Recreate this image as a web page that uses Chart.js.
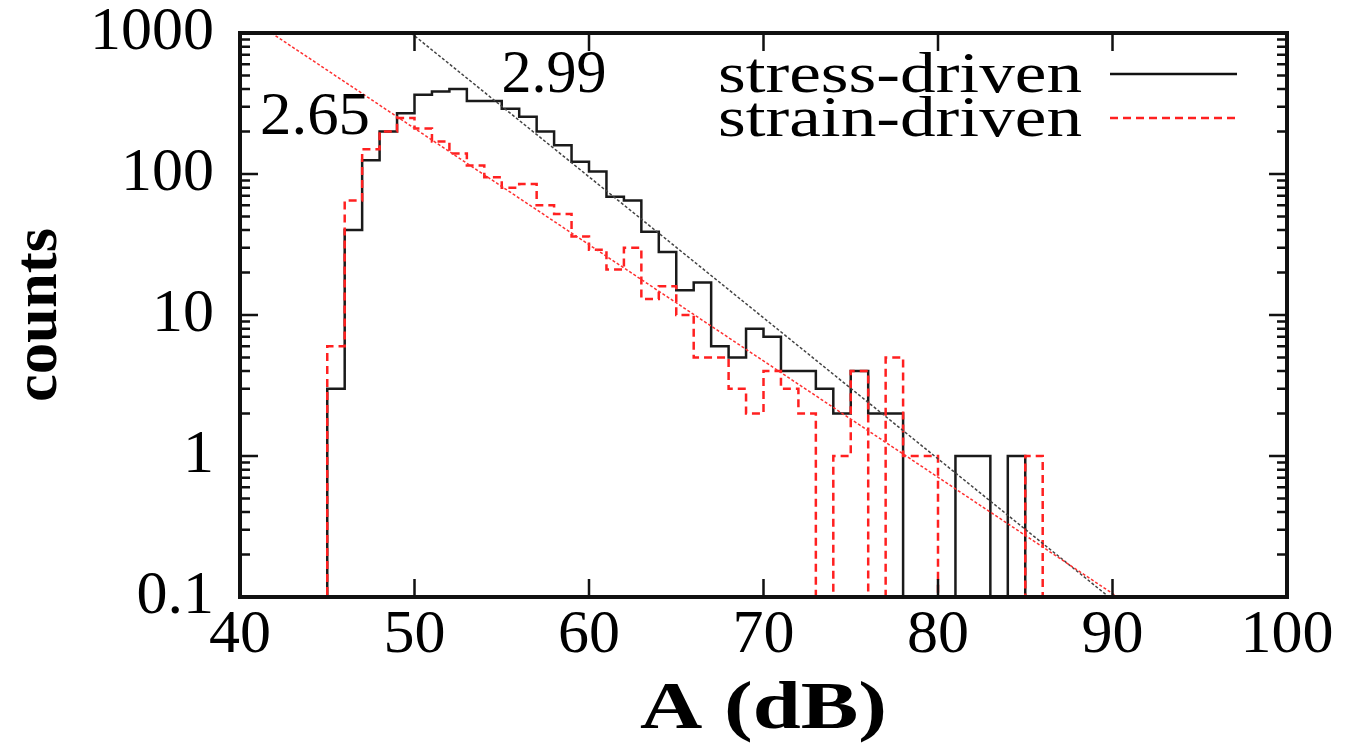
<!DOCTYPE html>
<html>
<head>
<meta charset="utf-8">
<script src="https://cdn.jsdelivr.net/npm/chart.js@4.4.1/dist/chart.umd.min.js"></script>
<style>
  html, body { margin: 0; padding: 0; background: #fff; }
  #wrap { width: 1356px; height: 746px; }
</style>
</head>
<body>
<div id="wrap"><canvas id="graficaAmplitud"></canvas></div>
<script>
// bin edges (dB), one bin per dB
const binEdges = [45,46,47,48,49,50,51,52,53,54,55,56,57,58,59,60,61,62,63,64,65,
                  66,67,68,69,70,71,72,73,74,75,76,77,78,79,80,81,82,83,84,85,86];

// counts per bin, starting at 45 dB
const stressCounts = [3,40,125,200,270,365,385,400,330,330,290,255,200,160,122,104,69,65,39,28,
                      15,17,6,5,8,7,4,4,3,2,4,2,2,0,0,0,1,1,0,1];
const strainCounts = [6,65,150,200,250,210,170,140,115,95,80,85,60,52,36,29,21,30,13,16,
                      10,5,5,3,2,4,3,2,0,1,4,0,5,1,1,0,0,0,0,0,1];

// power-law fits (end points)
const stressFitA = [49.8, 89.8];
const stressFitCounts = [1000, 0.1];
const strainFitA = [41.8, 90.3];
const strainFitCounts = [1000, 0.1];

const fitLabels = ["2.99", "2.65"];
const seriesNames = ["stress-driven", "strain-driven"];

const xTicks = [40,50,60,70,80,90,100];
const yTicks = [0.1,1,10,100,1000];
const yTickLabels = ["0.1","1","10","100","1000"];

// zero counts go below the axis (clipped), like gnuplot histeps
const FLOOR = 0.01;

function histPoints(edges, counts) {
    const pts = [{x: edges[0], y: FLOOR}];
    counts.forEach((c, i) => pts.push({x: edges[i], y: c > 0 ? c : FLOOR}));
    pts.push({x: edges[counts.length], y: FLOOR});
    return pts;
}
function linePoints(xs, ys) {
    return xs.map((x, i) => ({x: x, y: ys[i]}));
}

const SERIF = "'Liberation Serif', 'Times New Roman', serif";

// frame, inner ticks, legend and texts
const decorPlugin = {
    id: 'decor',
    afterDraw(chart) {
        const {ctx, chartArea: a, scales: {x, y}} = chart;
        ctx.save();
        ctx.strokeStyle = '#111';
        ctx.lineWidth = 2.5;
        ctx.beginPath();
        // y ticks, both sides
        for (let d = -1; d <= 3; d++) {
            for (let m = 1; m <= 9; m++) {
                const v = m * Math.pow(10, d);
                if (v > 1000 + 1e-9) break;
                const py = y.getPixelForValue(v);
                const len = m === 1 ? 18 : 10;
                ctx.moveTo(a.left, py); ctx.lineTo(a.left + len, py);
                ctx.moveTo(a.right, py); ctx.lineTo(a.right - len, py);
            }
        }
        // x ticks, bottom and top
        xTicks.forEach(v => {
            const px = x.getPixelForValue(v);
            ctx.moveTo(px, a.bottom); ctx.lineTo(px, a.bottom - 18);
            ctx.moveTo(px, a.top); ctx.lineTo(px, a.top + 18);
        });
        ctx.stroke();

        // frame
        ctx.lineWidth = 4;
        ctx.strokeRect(a.left, a.top, a.right - a.left, a.bottom - a.top);

        ctx.fillStyle = '#000';
        // fit exponents
        fitText(ctx, fitLabels[0], x.getPixelForValue(58.0), y.getPixelForValue(500), 105, "62px " + SERIF);
        fitText(ctx, fitLabels[1], x.getPixelForValue(44.3), y.getPixelForValue(250), 110, "62px " + SERIF);

        // legend
        fitText(ctx, seriesNames[0], 900, 77, 364, "56px " + SERIF);
        fitText(ctx, seriesNames[1], 900, 121, 364, "56px " + SERIF);
        ctx.lineWidth = 2.5;
        ctx.strokeStyle = '#111';
        ctx.beginPath(); ctx.moveTo(1110, 74); ctx.lineTo(1237, 74); ctx.stroke();
        ctx.strokeStyle = '#ff2020';
        ctx.setLineDash([8, 5]);
        ctx.beginPath(); ctx.moveTo(1110, 118); ctx.lineTo(1237, 118); ctx.stroke();
        ctx.setLineDash([]);

        // axis titles
        fitText(ctx, "A (dB)", (a.left + a.right) / 2, 710, 247, "bold 68px " + SERIF);
        ctx.save();
        ctx.translate(40, 315);
        ctx.rotate(-Math.PI / 2);
        fitText(ctx, "counts", 0, 0, 174, "bold 62px " + SERIF);
        ctx.restore();
        ctx.restore();
    }
};

function fitText(ctx, text, cx, cy, width, font) {
    ctx.font = font;
    const w = ctx.measureText(text).width;
    ctx.save();
    ctx.translate(cx, cy);
    ctx.scale(width / w, 1);
    ctx.textAlign = 'center';
    ctx.textBaseline = 'middle';
    ctx.fillText(text, 0, 0);
    ctx.restore();
}

new Chart(document.getElementById('graficaAmplitud'), {
    type: 'line',
    data: {
        datasets: [
            {
                label: 'fit strain',
                data: linePoints(strainFitA, strainFitCounts),
                borderColor: '#ff3030',
                borderWidth: 1.5,
                borderDash: [3, 2],
                pointRadius: 0,
                order: 0
            },
            {
                label: 'fit stress',
                data: linePoints(stressFitA, stressFitCounts),
                borderColor: '#444',
                borderWidth: 1.5,
                borderDash: [3, 2],
                pointRadius: 0,
                order: 1
            },
            {
                label: seriesNames[1],
                data: histPoints(binEdges, strainCounts),
                borderColor: '#ff2020',
                borderWidth: 2.5,
                borderDash: [8, 5],
                stepped: 'before',
                pointRadius: 0,
                order: 2
            },
            {
                label: seriesNames[0],
                data: histPoints(binEdges, stressCounts),
                borderColor: '#1a1a1a',
                borderWidth: 2.5,
                stepped: 'before',
                pointRadius: 0,
                order: 3
            }
        ]
    },
    options: {
        responsive: true,
        maintainAspectRatio: false,
        animation: false,
        layout: { padding: { top: 33, right: 69, left: 0, bottom: 0 } },
        plugins: { legend: { display: false }, tooltip: { enabled: false } },
        scales: {
            x: {
                type: 'linear',
                min: 40, max: 100,
                grid: { display: false, drawTicks: false },
                border: { display: false },
                afterBuildTicks: s => { s.ticks = xTicks.map(v => ({value: v})); },
                afterFit: s => { s.height = 149; s.paddingLeft = 0; s.paddingRight = 0; },
                ticks: {
                    color: '#000',
                    padding: 8,
                    font: { family: SERIF, size: 62, lineHeight: 1 },
                    maxRotation: 0,
                    autoSkip: false,
                    callback: v => String(v)
                }
            },
            y: {
                type: 'logarithmic',
                min: 0.1, max: 1000,
                grid: { display: false, drawTicks: false },
                border: { display: false },
                afterBuildTicks: s => { s.ticks = yTicks.map(v => ({value: v})); },
                afterFit: s => { s.width = 240; s.paddingTop = 0; s.paddingBottom = 0; },
                ticks: {
                    color: '#000',
                    padding: 26,
                    font: { family: SERIF, size: 62, lineHeight: 1 },
                    autoSkip: false,
                    callback: (v, i) => yTickLabels[i]
                }
            }
        }
    },
    plugins: [decorPlugin]
});
</script>
</body>
</html>
